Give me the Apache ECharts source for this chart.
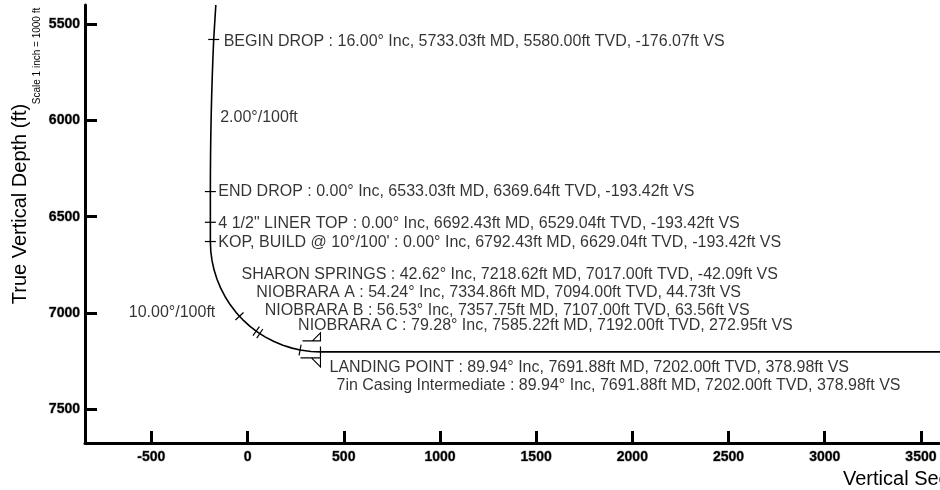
<!DOCTYPE html>
<html><head><meta charset="utf-8">
<script src="https://cdn.jsdelivr.net/npm/echarts@6/dist/echarts.min.js"></script>
<style>html,body{margin:0;padding:0;background:#fff}#c{width:940px;height:490px}</style>
</head><body><div id="c"></div>
<script>
// ---- axis ticks ----
const xTicks = [-500, 0, 500, 1000, 1500, 2000, 2500, 3000, 3500];
const yTicks = [5500, 6000, 6500, 7000, 7500];

// ---- well path (vertical section ft, true vertical depth ft) ----
const pathVS = [-165, -176.07, -180.11, -183.6, -186.6, -189.0, -190.94, -192.3, -193.11, -193.42, -193.42,
  -191.24, -184.72, -173.90, -158.86, -139.74, -116.66, -89.80, -59.37, -42.09, -25.60, 11.25, 44.73, 50.90,
  63.56, 93.06, 137.39, 183.58, 231.25, 272.95, 280.05, 329.60, 378.98, 3700];
const pathTVD = [5401, 5580, 5676.6, 5774.0, 5872.2, 5971.0, 6070.2, 6169.8, 6269.7, 6369.64, 6629.04,
  6678.98, 6728.54, 6777.33, 6825.00, 6871.18, 6915.52, 6957.68, 6997.33, 7017.00, 7034.18, 7067.95, 7094.00, 7098.38,
  7107.00, 7125.24, 7148.32, 7167.44, 7182.48, 7192.00, 7193.30, 7199.82, 7202.00, 7202.00];

// ---- annotated survey points ----
const markerText = [
  'BEGIN DROP : 16.00° Inc, 5733.03ft MD, 5580.00ft TVD, -176.07ft VS',
  'END DROP : 0.00° Inc, 6533.03ft MD, 6369.64ft TVD, -193.42ft VS',
  '4 1/2" LINER TOP : 0.00° Inc, 6692.43ft MD, 6529.04ft TVD, -193.42ft VS',
  "KOP, BUILD @ 10°/100' : 0.00° Inc, 6792.43ft MD, 6629.04ft TVD, -193.42ft VS",
  'SHARON SPRINGS : 42.62° Inc, 7218.62ft MD, 7017.00ft TVD, -42.09ft VS',
  'NIOBRARA A : 54.24° Inc, 7334.86ft MD, 7094.00ft TVD, 44.73ft VS',
  'NIOBRARA B : 56.53° Inc, 7357.75ft MD, 7107.00ft TVD, 63.56ft VS',
  'NIOBRARA C : 79.28° Inc, 7585.22ft MD, 7192.00ft TVD, 272.95ft VS',
  'LANDING POINT : 89.94° Inc, 7691.88ft MD, 7202.00ft TVD, 378.98ft VS'
];
const markerVS = [-176.07, -193.42, -193.42, -193.42, -42.09, 44.73, 63.56, 272.95, 378.98];
const markerTVD = [5580.00, 6369.64, 6529.04, 6629.04, 7017.00, 7094.00, 7107.00, 7192.00, 7202.00];
const markerInc = [0, 0, 0, 0, 42.62, 54.24, 56.53, 79.28, 89.94];

// ---- casing ----
const casingText = ['7in Casing Intermediate : 89.94° Inc, 7691.88ft MD, 7202.00ft TVD, 378.98ft VS'];
const casingVS = [378.98];
const casingTVD = [7202.00];

// ---- dogleg annotations ----
const doglegText = ['2.00°/100ft', '10.00°/100ft'];
const doglegVS = [-189.0, -89.80];
const doglegTVD = [5971.0, 6957.68];

// ---- layout (pixel offsets of labels) ----
const markerLabelOffset = [[10, 2], [8, 0], [8, 1], [8, 1], [2, -42], [0, -38], [5, -23], [-2, -24], [9, 16]];
const casingLabelOffset = [[16, 34]];
const doglegLabelOffset = [[9, 3], [-15, 8]];
const doglegAlign = ['left', 'right'];

const FONT = 'Liberation Sans, Arial, sans-serif';
const chart = echarts.init(document.getElementById('c'), null, {renderer: 'canvas'});

const labelData = [];
markerText.forEach((t, i) => labelData.push({value: [markerVS[i], markerTVD[i]], text: t, off: markerLabelOffset[i], align: 'left'}));
casingText.forEach((t, i) => labelData.push({value: [casingVS[i], casingTVD[i]], text: t, off: casingLabelOffset[i], align: 'left'}));
doglegText.forEach((t, i) => labelData.push({value: [doglegVS[i], doglegTVD[i]], text: t, off: doglegLabelOffset[i], align: doglegAlign[i]}));

const tickLabel = {color: '#000', fontFamily: FONT, fontWeight: 'bold', fontSize: 14,
  textBorderColor: 'rgba(0,0,0,0.35)', textBorderWidth: 1, formatter: v => String(v)};

const option = {
  animation: false,
  backgroundColor: '#fff',
  grid: {left: 85, right: 0, top: 5, bottom: 47, containLabel: false},
  xAxis: {
    type: 'value', min: -845, max: 3595,
    axisLine: {show: true, onZero: false, lineStyle: {color: '#000', width: 3}},
    axisTick: {show: true, inside: true, length: 12, lineStyle: {color: '#000', width: 3}, customValues: xTicks},
    axisLabel: Object.assign({customValues: xTicks, margin: 7}, tickLabel),
    splitLine: {show: false}
  },
  yAxis: {
    type: 'value', inverse: true, min: 5401, max: 7675,
    axisLine: {show: true, onZero: false, lineStyle: {color: '#000', width: 3}},
    axisTick: {show: true, inside: true, length: 12, lineStyle: {color: '#000', width: 3}, customValues: yTicks},
    axisLabel: Object.assign({customValues: yTicks, margin: 5}, tickLabel),
    splitLine: {show: false}
  },
  graphic: [
    {type: 'text', x: 20, y: 204, rotation: Math.PI / 2,
      style: {text: 'True Vertical Depth (ft)', font: '20px ' + FONT, fill: '#000', align: 'center', verticalAlign: 'middle'}},
    {type: 'text', x: 37, y: 56, rotation: Math.PI / 2,
      style: {text: 'Scale 1 inch = 1000 ft', font: '10px ' + FONT, fill: '#000', align: 'center', verticalAlign: 'middle'}},
    {type: 'text', x: 843, y: 479,
      style: {text: 'Vertical Section (ft)', font: '20px ' + FONT, fill: '#000', align: 'left', verticalAlign: 'middle'}}
  ],
  series: [
    {
      type: 'line', data: pathVS.map((v, i) => [v, pathTVD[i]]), showSymbol: false, smooth: false,
      lineStyle: {color: '#000', width: 1.6}, z: 3
    },
    {
      type: 'custom', z: 4,
      data: markerVS.map((v, i) => [v, markerTVD[i], markerInc[i]]),
      renderItem: (params, api) => {
        const p = api.coord([api.value(0), api.value(1)]);
        const a = api.value(2) * Math.PI / 180;
        const h = 5.5, dx = Math.cos(a) * h, dy = -Math.sin(a) * h;
        return {type: 'line', shape: {x1: p[0] - dx, y1: p[1] - dy, x2: p[0] + dx, y2: p[1] + dy},
          style: {stroke: '#000', lineWidth: 1.2}};
      }
    },
    {
      type: 'custom', z: 4,
      data: casingVS.map((v, i) => [v, casingTVD[i]]),
      renderItem: (params, api) => {
        const p = api.coord([api.value(0), api.value(1)]);
        const x = p[0], y = p[1];
        const st = {stroke: '#000', lineWidth: 1.1, fill: null};
        return {type: 'group', children: [
          {type: 'polyline', shape: {points: [[x - 18, y - 11], [x, y - 11], [x, y - 19], [x - 8, y - 11]]}, style: st},
          {type: 'polyline', shape: {points: [[x - 20, y + 6], [x, y + 6], [x, y + 15], [x - 9, y + 6]]}, style: st}
        ]};
      }
    },
    {
      type: 'scatter', symbolSize: 0, z: 5, silent: true,
      data: labelData.map(d => ({
        value: d.value,
        label: {show: true, formatter: d.text, position: 'inside', align: d.align, verticalAlign: 'middle',
          offset: d.off, color: '#000', fontFamily: FONT, fontSize: 16}
      }))
    }
  ]
};
chart.setOption(option);
</script></body></html>
